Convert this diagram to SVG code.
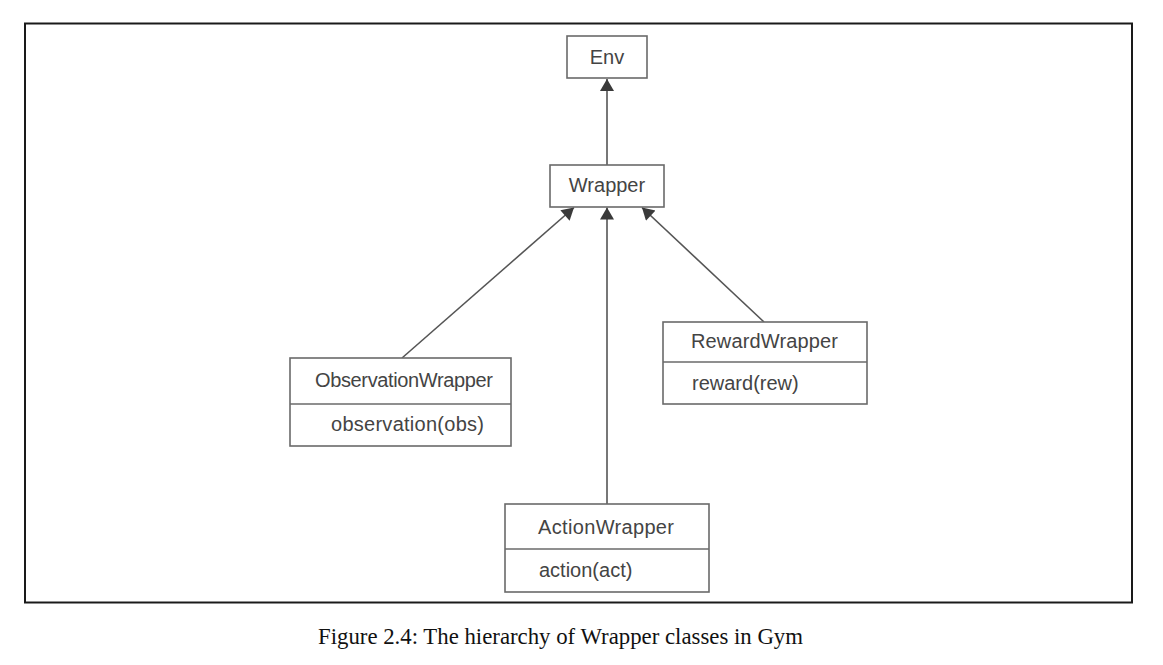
<svg xmlns="http://www.w3.org/2000/svg" width="1163" height="665" viewBox="0 0 1163 665">
<style>
.box{fill:#fff;stroke:#6a6a6a;stroke-width:1.6}
.div{stroke:#6a6a6a;stroke-width:1.6}
.lbl{font-family:"Liberation Sans",Arial,sans-serif;font-size:20px;fill:#444}
.edge{stroke:#555;stroke-width:1.6;fill:none;marker-end:url(#tri)}
.cap{font-family:"Liberation Serif","Times New Roman",serif;font-size:23px;fill:#111}
</style>
<defs>
<marker id="tri" markerUnits="userSpaceOnUse" markerWidth="14" markerHeight="14" viewBox="0 0 12 14" refX="12" refY="7" orient="auto">
<path d="M0,0 L12,7 L0,14 Z" fill="#3a3a3a"/>
</marker>
</defs>
<rect x="0" y="0" width="1163" height="665" fill="#fff"/>
<rect x="25" y="23.5" width="1107" height="579" fill="none" stroke="#1a1a1a" stroke-width="2"/>
<g id="connectors">
<line class="edge" x1="607" y1="165" x2="607" y2="79"/>
<line class="edge" x1="402" y1="358" x2="574" y2="207.5"/>
<line class="edge" x1="607" y1="504" x2="607" y2="207.5"/>
<line class="edge" x1="764" y1="322" x2="642" y2="207.5"/>
</g>
<g id="env">
<rect class="box" x="567" y="36" width="80" height="42"/>
<text class="lbl" x="607" y="64" text-anchor="middle">Env</text>
</g>
<g id="wrapper">
<rect class="box" x="550" y="165" width="114" height="42"/>
<text class="lbl" x="607" y="192" text-anchor="middle">Wrapper</text>
</g>
<g id="observationwrapper">
<rect class="box" x="290" y="358" width="221" height="88"/>
<line class="div" x1="290" y1="404" x2="511" y2="404"/>
<text class="lbl" x="315" y="387" textLength="178">ObservationWrapper</text>
<text class="lbl" x="331" y="431" textLength="153">observation(obs)</text>
</g>
<g id="rewardwrapper">
<rect class="box" x="663" y="322" width="204" height="82"/>
<line class="div" x1="663" y1="362" x2="867" y2="362"/>
<text class="lbl" x="691" y="347.5" textLength="147">RewardWrapper</text>
<text class="lbl" x="692" y="390">reward(rew)</text>
</g>
<g id="actionwrapper">
<rect class="box" x="505" y="504" width="204" height="88"/>
<line class="div" x1="505" y1="549" x2="709" y2="549"/>
<text class="lbl" x="538" y="533.5" textLength="136">ActionWrapper</text>
<text class="lbl" x="539" y="577">action(act)</text>
</g>
<text class="cap" x="318" y="644" textLength="485" lengthAdjust="spacingAndGlyphs">Figure 2.4: The hierarchy of Wrapper classes in Gym</text>
</svg>
